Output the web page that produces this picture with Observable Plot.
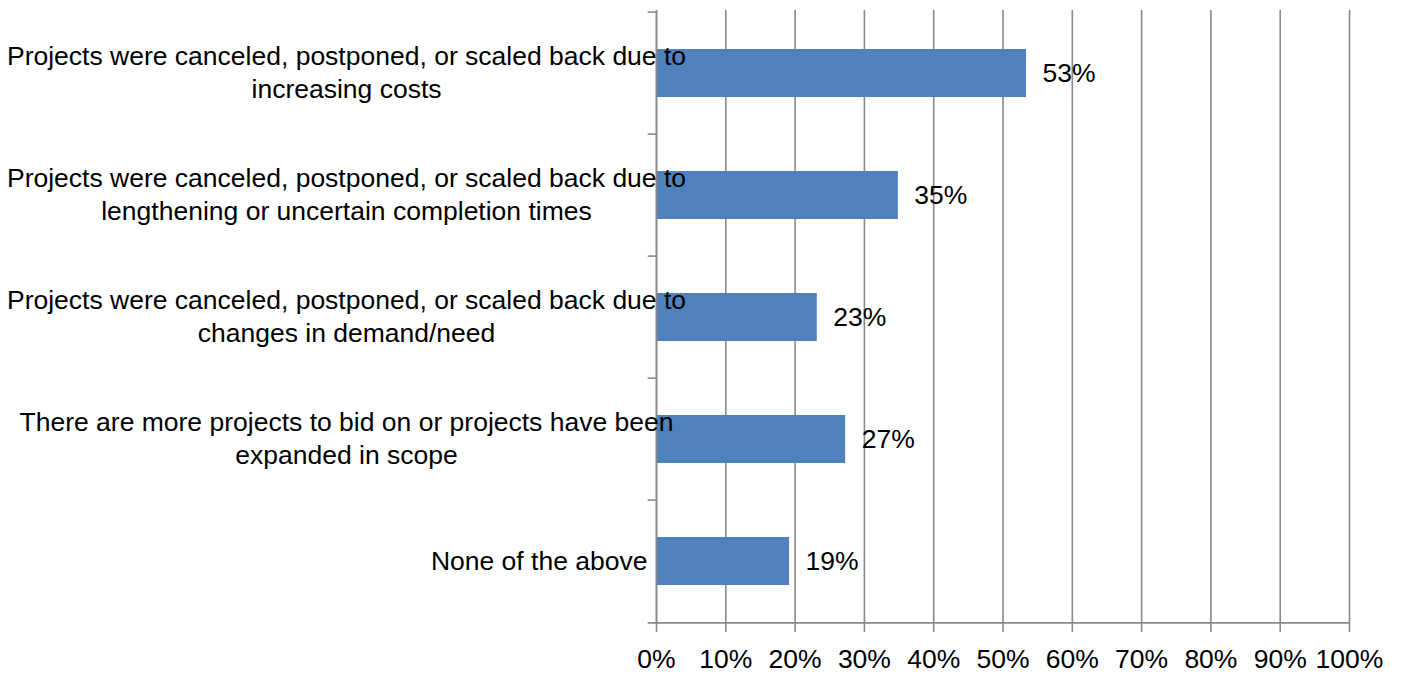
<!DOCTYPE html>
<html>
<head>
<meta charset="utf-8">
<script src="https://cdn.jsdelivr.net/npm/d3@7"></script>
<script src="https://cdn.jsdelivr.net/npm/@observablehq/plot@0.6"></script>
<style>
  html, body { margin: 0; padding: 0; background: #fff; }
  #chart svg { display: block; }
</style>
</head>
<body>
<div id="chart"></div>
<script>
const categories = [
  "Projects were canceled, postponed, or scaled back due to increasing costs",
  "Projects were canceled, postponed, or scaled back due to lengthening or uncertain completion times",
  "Projects were canceled, postponed, or scaled back due to changes in demand/need",
  "There are more projects to bid on or projects have been expanded in scope",
  "None of the above"
];
const categoryLabels = [
  "Projects were canceled, postponed, or scaled back due to\nincreasing costs",
  "Projects were canceled, postponed, or scaled back due to\nlengthening or uncertain completion times",
  "Projects were canceled, postponed, or scaled back due to\nchanges in demand/need",
  "There are more projects to bid on or projects have been\nexpanded in scope",
  "None of the above"
];
const values = [53.4, 34.9, 23.2, 27.3, 19.2];
const valueLabels = ["53%", "35%", "23%", "27%", "19%"];
const xTicks = [0, 10, 20, 30, 40, 50, 60, 70, 80, 90, 100];

const data = categories.map((c, i) => ({
  category: c,
  label: categoryLabels[i],
  value: values[i],
  text: valueLabels[i]
}));

const gray = "#898989";
const fs = 26.5;
const W = 1408, H = 675, mT = 10, mB = 51, mL = 656, mR = 59;
const halfStep = (H - mT - mB) / categories.length / 2;

const chart = Plot.plot({
  width: W,
  height: H,
  marginLeft: mL,
  marginRight: mR,
  marginTop: mT,
  marginBottom: mB,
  style: { fontFamily: "'Liberation Sans', Arial, sans-serif", fontSize: fs + "px", color: "#000", background: "#fff" },
  x: { domain: [0, 100] },
  y: { domain: categories, padding: 0, axis: null },
  marks: [
    Plot.gridX(xTicks, { stroke: gray, strokeOpacity: 1, strokeWidth: 1.6 }),
    Plot.barX(data, { y: "category", x: "value", fill: "#4F81BD", insetTop: 37, insetBottom: 37 }),
    Plot.ruleX([0], { stroke: gray, strokeWidth: 1.6 }),
    Plot.ruleY(categories, { y: d => d, x1: -1.2, x2: 0, dy: -halfStep, stroke: gray, strokeWidth: 1.6 }),
    Plot.ruleY([categories[categories.length - 1]], { y: d => d, x1: -1.2, x2: 100, dy: halfStep, stroke: gray, strokeWidth: 1.6 }),
    Plot.axisX(xTicks, { anchor: "bottom", tickFormat: d => d + "%", tickSize: 8, tickPadding: 17, stroke: gray, strokeWidth: 1.6, fill: "#000", fontSize: fs, label: null }),
    Plot.text(data.filter(d => d.label.includes("\n")), {
      y: "category", text: "label", frameAnchor: "left", textAnchor: "middle",
      dx: -310, dy: -3, lineHeight: 1.25, lineWidth: Infinity, fill: "#000", fontSize: fs
    }),
    Plot.text(data.filter(d => !d.label.includes("\n")), {
      y: "category", text: "label", frameAnchor: "left", textAnchor: "end",
      dx: -9, fill: "#000", fontSize: fs
    }),
    Plot.text(data, { y: "category", x: "value", text: "text", textAnchor: "start", dx: 16, fill: "#000", fontSize: fs })
  ]
});
document.getElementById("chart").appendChild(chart);
</script>
</body>
</html>
